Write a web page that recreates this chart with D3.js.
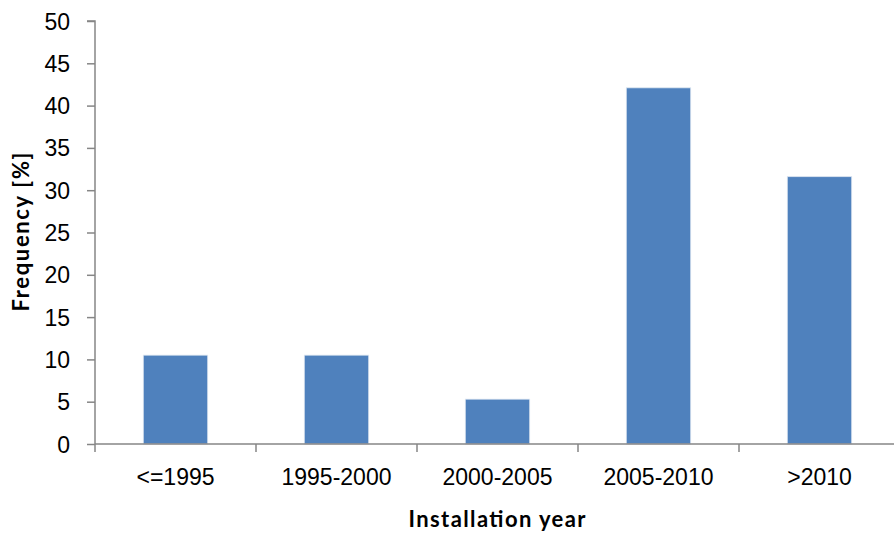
<!DOCTYPE html>
<html>
<head>
<meta charset="utf-8">
<script src="https://cdn.jsdelivr.net/npm/d3@7"></script>
<style>
  body { margin: 0; background: #fff; }
  svg { display: block; font-family: Lato, "Open Sans", sans-serif; }
</style>
</head>
<body>
<svg id="chart" width="894" height="533"></svg>
<script>
const categories = ['<=1995', '1995-2000', '2000-2005', '2005-2010', '>2010'];
const frequency = [10.5, 10.5, 5.3, 42.1, 31.6];
const yTicks = [0, 5, 10, 15, 20, 25, 30, 35, 40, 45, 50];

const svg = d3.select('#chart');
const margin = { top: 21, right: -6, bottom: 89, left: 95 };
const width = 894 - margin.left - margin.right;
const height = 533 - margin.top - margin.bottom;

const g = svg.append('g').attr('transform', `translate(${margin.left},${margin.top})`);

const x = d3.scaleBand().domain(categories).range([0, width]).paddingInner(0.6).paddingOuter(0.3);
const xb = d3.scaleBand().domain(categories).range([0, width]);
const y = d3.scaleLinear().domain([0, 50]).range([height, 0]);

// bars
g.selectAll('rect.bar')
  .data(frequency)
  .enter()
  .append('rect')
  .attr('class', 'bar')
  .attr('x', (d, i) => x(categories[i]))
  .attr('y', d => y(d))
  .attr('width', x.bandwidth())
  .attr('height', d => height - y(d))
  .attr('fill', '#4f81bd')
  .attr('stroke', '#dbe4f0')
  .attr('stroke-width', 0.8);

// y axis
const yAxis = g.append('g')
  .call(d3.axisLeft(y).tickValues(yTicks).tickSize(8).tickPadding(17));
yAxis.select('.domain').attr('stroke', '#868686').attr('stroke-width', 1.5)
  .attr('d', `M-8,0H0V${height}`);
yAxis.selectAll('.tick line').attr('stroke', '#868686').attr('stroke-width', 1.5);
yAxis.selectAll('.tick text').attr('font-size', 23).attr('fill', '#000').attr('dy', '0.35em');

// x axis
const xAxis = g.append('g').attr('transform', `translate(0,${height})`)
  .call(d3.axisBottom(xb).tickSize(0).tickPadding(25));
xAxis.select('.domain').attr('stroke', '#868686').attr('stroke-width', 1.5).attr('d', `M0,0H${width}`);
xAxis.selectAll('.tick text').attr('font-size', 23).attr('fill', '#000');
xAxis.selectAll('line.sep')
  .data(categories.map(c => xb(c)).concat([width]))
  .enter()
  .append('line')
  .attr('class', 'sep')
  .attr('x1', d => d).attr('x2', d => d)
  .attr('y1', 0).attr('y2', 8)
  .attr('stroke', '#868686').attr('stroke-width', 1.5);

// axis titles
svg.append('text')
  .attr('x', 497).attr('y', 527)
  .attr('text-anchor', 'middle')
  .attr('font-size', 22).attr('font-weight', 'bold')
  .attr('textLength', 177).attr('lengthAdjust', 'spacing')
  .text('Installation year');

svg.append('text')
  .attr('transform', 'translate(29,232) rotate(-90)')
  .attr('text-anchor', 'middle')
  .attr('font-size', 22).attr('font-weight', 'bold')
  .attr('textLength', 159).attr('lengthAdjust', 'spacing')
  .text('Frequency [%]');
</script>
</body>
</html>
